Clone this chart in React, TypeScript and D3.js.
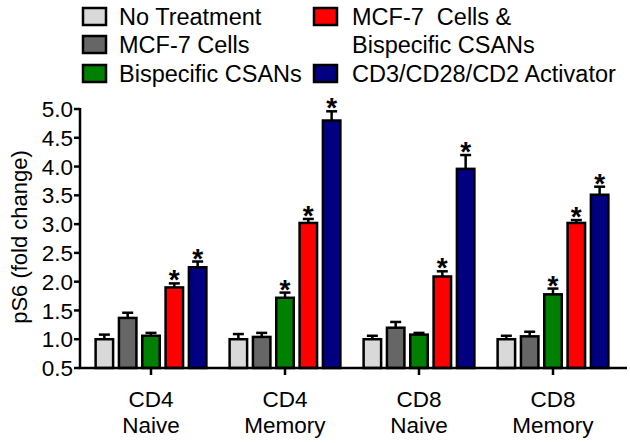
import React from "react";
import * as d3 from "d3";

const categories = ["CD4 Naive", "CD4 Memory", "CD8 Naive", "CD8 Memory"];
const categoryLines = [["CD4", "Naive"], ["CD4", "Memory"], ["CD8", "Naive"], ["CD8", "Memory"]];
const seriesNames = [
  "No Treatment",
  "MCF-7 Cells",
  "Bispecific CSANs",
  "MCF-7  Cells & Bispecific CSANs",
  "CD3/CD28/CD2 Activator",
];
const seriesColors = ["#d9d9d9", "#666666", "#008000", "#ff0000", "#000080"];

const noTreatment = [1.0, 1.0, 1.0, 1.0];
const noTreatmentErr = [0.08, 0.09, 0.06, 0.06];
const mcf7 = [1.37, 1.04, 1.2, 1.05];
const mcf7Err = [0.09, 0.07, 0.1, 0.08];
const csans = [1.06, 1.72, 1.08, 1.78];
const csansErr = [0.05, 0.09, 0.03, 0.1];
const combo = [1.9, 3.02, 2.09, 3.02];
const comboErr = [0.07, 0.07, 0.09, 0.05];
const activator = [2.25, 4.8, 3.96, 3.51];
const activatorErr = [0.1, 0.16, 0.24, 0.14];

const csansSig = [false, true, false, true];
const comboSig = [true, true, true, true];
const activatorSig = [true, true, true, true];

const yTicks = [0.5, 1.0, 1.5, 2.0, 2.5, 3.0, 3.5, 4.0, 4.5, 5.0];

const values = [noTreatment, mcf7, csans, combo, activator];
const errors = [noTreatmentErr, mcf7Err, csansErr, comboErr, activatorErr];
const sigs = [[false, false, false, false], [false, false, false, false], csansSig, comboSig, activatorSig];

const FONT = "'Liberation Sans', Arial, sans-serif";

export default function App() {
  const W = 630, H = 443;
  const axisX = 80;
  const axisEnd = 627;
  const y = d3.scaleLinear().domain([0.5, 5.0]).range([368, 109]);
  const x0 = d3.scaleBand<string>().domain(categories).range([84, 620]).padding(0);
  const half = 58.3;

  const legendLeft = [0, 1, 2];
  const legendRows = [25, 53, 82];
  const LFS = 23.5;

  return (
    <svg width={W} height={H} style={{ position: "absolute", left: 0, top: 0, background: "#fff" }} fontFamily={FONT}>
      {/* legend */}
      {legendLeft.map((si, r) => (
        <g key={"ll" + si}>
          <rect x={83} y={legendRows[r] - 17} width={23} height={17} fill={seriesColors[si]} stroke="#000" strokeWidth={2.5} />
          <text x={119} y={legendRows[r]} fontSize={LFS} fill="#000">{seriesNames[si]}</text>
        </g>
      ))}
      <g>
        <rect x={314} y={legendRows[0] - 17} width={23} height={17} fill={seriesColors[3]} stroke="#000" strokeWidth={2.5} />
        <text x={352} y={legendRows[0]} fontSize={LFS} fill="#000" style={{ whiteSpace: "pre" }}>{"MCF-7  Cells &"}</text>
        <text x={352} y={legendRows[1]} fontSize={LFS} fill="#000">{"Bispecific CSANs"}</text>
        <rect x={314} y={legendRows[2] - 17} width={23} height={17} fill={seriesColors[4]} stroke="#000" strokeWidth={2.5} />
        <text x={352} y={legendRows[2]} fontSize={LFS} fill="#000">{seriesNames[4]}</text>
      </g>

      {/* y axis label */}
      <text transform={`translate(27,237) rotate(-90)`} textAnchor="middle" fontSize={22} fill="#000">pS6 (fold change)</text>

      {/* bars */}
      {categories.map((c, ci) => {
        const cx = (x0(c) as number) + x0.bandwidth() / 2;
        const x1 = d3.scaleBand<string>().domain(seriesNames).range([cx - half, cx + half]).paddingInner(0.25).paddingOuter(0.125);
        return (
          <g key={c}>
            {seriesNames.map((s, si) => {
              const v = values[si][ci];
              const e = errors[si][ci];
              const bx = x1(s) as number;
              const bw = x1.bandwidth();
              const mx = bx + bw / 2;
              const top = y(v);
              const et = y(v + e);
              return (
                <g key={s}>
                  <line x1={mx} x2={mx} y1={top} y2={et} stroke="#000" strokeWidth={2.5} />
                  <line x1={mx - 5.5} x2={mx + 5.5} y1={et} y2={et} stroke="#000" strokeWidth={2.5} />
                  <rect x={bx} y={top} width={bw} height={y(0.5) - top} fill={seriesColors[si]} stroke="#000" strokeWidth={2.5} />
                  {sigs[si][ci] && (
                    <text x={mx} y={et + 6} textAnchor="middle" fontSize={28} fontWeight="bold" fill="#000">*</text>
                  )}
                </g>
              );
            })}
          </g>
        );
      })}

      {/* y axis */}
      <line x1={axisX} x2={axisX} y1={y(5.0) - 1} y2={y(0.5)} stroke="#000" strokeWidth={2.5} />
      {yTicks.map((t) => (
        <g key={t}>
          <line x1={axisX - 6} x2={axisX} y1={y(t)} y2={y(t)} stroke="#000" strokeWidth={2.5} />
          <text x={axisX - 7} y={y(t)} dy="0.36em" textAnchor="end" fontSize={22.5} fill="#000">{t.toFixed(1)}</text>
        </g>
      ))}

      {/* x axis */}
      <line x1={axisX - 1} x2={axisEnd} y1={y(0.5)} y2={y(0.5)} stroke="#000" strokeWidth={2.5} />
      {categories.map((c, ci) => {
        const cx = (x0(c) as number) + x0.bandwidth() / 2;
        return (
          <g key={"xt" + c}>
            <line x1={cx} x2={cx} y1={y(0.5)} y2={y(0.5) + 7} stroke="#000" strokeWidth={2.5} />
            <text x={cx} y={407} textAnchor="middle" fontSize={22.5} fill="#000">{categoryLines[ci][0]}</text>
            <text x={cx} y={433} textAnchor="middle" fontSize={22.5} fill="#000">{categoryLines[ci][1]}</text>
          </g>
        );
      })}
    </svg>
  );
}
